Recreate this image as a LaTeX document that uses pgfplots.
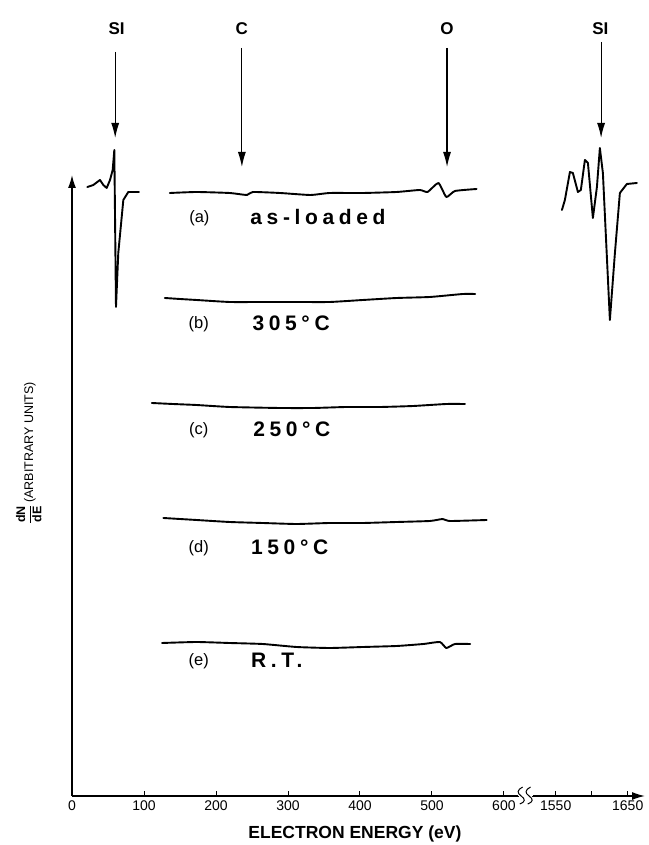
\documentclass[border=0pt]{standalone}
\usepackage{fontspec}
\setmainfont{Liberation Sans}
\newfontfamily\lblfont[LetterSpace=22]{Liberation Sans}
\usepackage{pgfplots}
\pgfplotsset{compat=1.18}
\usetikzlibrary{arrows.meta}

\begin{document}
\begin{tikzpicture}
\begin{axis}[
  scale only axis, width=573pt, height=621pt,
  xmin=0, xmax=796, ymin=2, ymax=623,
  axis x line=bottom, axis y line=left,
  axis line style={line width=1.5pt, -{Latex[length=13pt,width=8pt]}},
  clip=false,
  xtick={0,100,200,300,400,500,600,672,722,772},
  xticklabels={0,100,200,300,400,500,600,1550,{},1650},
  ytick=\empty,
  tick align=inside, major tick length=5pt,
  every tick/.style={black, line width=0.9pt},
  x tick label style={font=\fontsize{14}{16}\selectfont, yshift=-1pt},
  tr/.style={black, line width=1.9pt, line join=round, line cap=round, mark=none},
]
% (a) as-loaded
\addplot[tr, smooth, tension=0.3] coordinates {(136,605) (173,606) (219,605) (243,603) (251,606) (289,605) (331,603) (358,605) (404,605) (451,606) (483,608) (494,606) (509,615) (520,601) (532,607) (562,609)};
% (b) 305 C
\addplot[tr, smooth, tension=0.3] coordinates {(129,500) (150,499) (173,498) (219,496) (265,496) (312,496) (358,496) (404,498) (451,500) (497,501) (543,504) (560,504)};
% (c) 250 C
\addplot[tr, smooth, tension=0.3] coordinates {(111,395) (140,394) (173,393) (219,391) (289,390) (335,390) (381,391) (428,391) (474,392) (520,394) (546,394)};
% (d) 150 C
\addplot[tr, smooth, tension=0.3] coordinates {(127,280) (173,278) (219,276) (265,275) (312,274) (358,275) (404,275) (451,276) (497,277) (515,279) (525,277) (576,278)};
% (e) R.T.
\addplot[tr, smooth, tension=0.3] coordinates {(125,155) (173,156) (219,155) (265,154) (312,151) (358,150) (404,151) (451,152) (488,154) (511,156) (520,150) (532,154) (553,154)};
% Si LVV (left)
\addplot[tr] coordinates {(21.3,611) (29.6,613) (38.9,618) (43.5,613) (48.2,610) (52.8,618) (56.5,628) (58.8,648) (61.1,491) (64.3,545) (71.3,598) (78.2,606) (93.1,606)};
% Si KLL (right)
\addplot[tr] coordinates {(680.6,588) (684.7,598) (691.7,626) (695.8,625) (702.8,606) (706.9,608) (712.5,638) (716.7,635) (723.6,580) (729.2,611) (733.3,650) (737.5,625) (747.2,478) (754.2,545) (761.1,605) (770.8,614) (784.7,615)};

% element markers
\tikzset{elarrow/.style={line width=1.1pt, -{Latex[length=15pt,width=8pt]}}}
\draw[elarrow] (axis cs:60,746) -- (axis cs:60,660);
\draw[elarrow] (axis cs:236,750) -- (axis cs:236,631);
\draw[elarrow] (axis cs:521,750) -- (axis cs:521,631);
\draw[elarrow] (axis cs:735,756) -- (axis cs:735,660);
\node[anchor=base, font=\bfseries\fontsize{17}{20}\selectfont] at (axis cs:62,763) {SI};
\node[anchor=base, font=\bfseries\fontsize{17}{20}\selectfont] at (axis cs:236,763) {C};
\node[anchor=base, font=\bfseries\fontsize{17}{20}\selectfont] at (axis cs:521,763) {O};
\node[anchor=base, font=\bfseries\fontsize{17}{20}\selectfont] at (axis cs:734,763) {SI};

% curve labels
\tikzset{tag/.style={anchor=base, font=\fontsize{16.5}{18}\selectfont},
         cond/.style={anchor=base west, font=\lblfont\bfseries\fontsize{21}{24}\selectfont}}
\node[tag] at (axis cs:177,575) {(a)};
\node[cond] at (axis cs:243,573) {as-loaded};
\node[tag] at (axis cs:176,469) {(b)};
\node[cond] at (axis cs:246,467) {305°C};
\node[tag] at (axis cs:176,363) {(c)};
\node[cond] at (axis cs:247,361) {250°C};
\node[tag] at (axis cs:176,245) {(d)};
\node[cond] at (axis cs:244,243) {150°C};
\node[tag] at (axis cs:176,132) {(e)};
\node[cond] at (axis cs:244,130) {R.T.};

% axis break
\fill[white] (axis cs:619,-3) rectangle (axis cs:640,7);
\draw[line width=1pt] (axis cs:617,2) -- (axis cs:621,2);
\draw[line width=1pt] (axis cs:639,2) -- (axis cs:643,2);
\draw[line width=1pt] (axis cs:626,11) .. controls (axis cs:618,8) and (axis cs:618,5) .. (axis cs:624,2) .. controls (axis cs:630,-1) and (axis cs:630,-4) .. (axis cs:622,-6);
\draw[line width=1pt] (axis cs:637,11) .. controls (axis cs:629,8) and (axis cs:629,5) .. (axis cs:635,2) .. controls (axis cs:641,-1) and (axis cs:641,-4) .. (axis cs:633,-6);

% axis titles
\node[font=\bfseries\fontsize{17.5}{20}\selectfont] at (axis cs:393,-36) {ELECTRON ENERGY (eV)};
\node[rotate=90, font=\fontsize{12.5}{15}\selectfont] at (axis cs:-60,345)
  {$\displaystyle\frac{\mbox{\bfseries dN}}{\mbox{\bfseries dE}}$\,(ARBITRARY UNITS)};
\end{axis}
\pgfresetboundingbox
\path[use as bounding box] (-72pt,-49pt) rectangle (576pt,796pt);
\end{tikzpicture}
\end{document}
